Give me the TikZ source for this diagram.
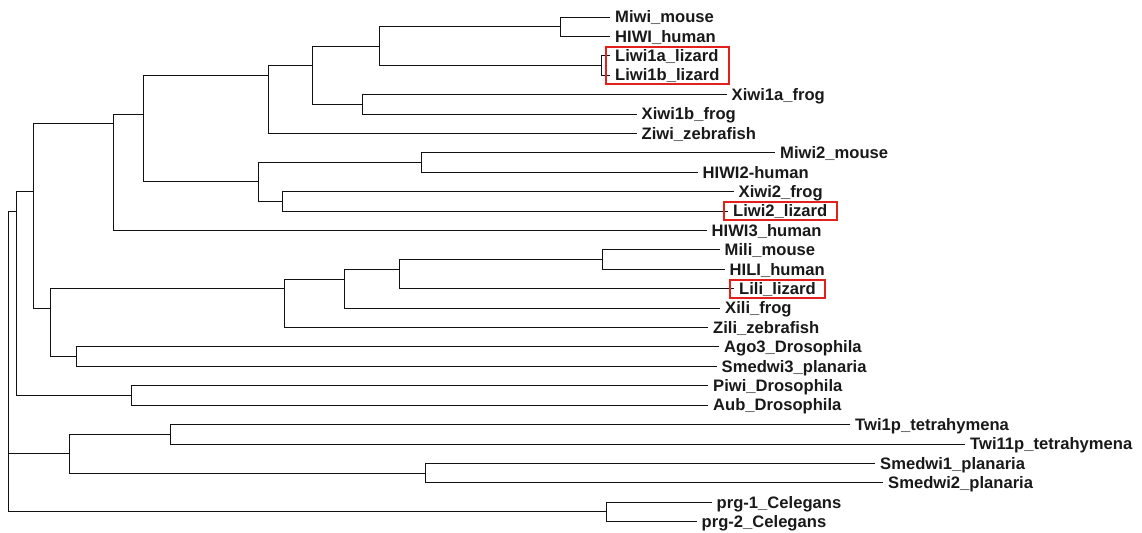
\documentclass[tikz,border=0pt]{standalone}
\usepackage{fontspec}
\setmainfont{Liberation Sans}
\usetikzlibrary{positioning, fit}
\definecolor{treeGray}{HTML}{111111}
\definecolor{markRed}{HTML}{E3201B}

\begin{document}
\begin{tikzpicture}[x=1pt, y=-19.41pt,
    branch/.style={draw=treeGray, line width=1pt},
    leaf/.style={font=\bfseries\fontsize{16.6}{18}\selectfont, text=black!90,
      inner sep=0pt, text height=14.5pt, text depth=3pt},
    hilite/.style={draw=markRed, line width=2pt, inner xsep=9.5pt, inner ysep=0pt}]
  \useasboundingbox (0,-0.876) rectangle (1142,26.533);
  % leaves: row / tip / label
  \foreach \i/\x/\w in {0/610/Miwi\_mouse, 1/610/HIWI\_human, 2/610/Liwi1a\_lizard,
      3/610/Liwi1b\_lizard, 4/726.5/Xiwi1a\_frog, 5/636.5/Xiwi1b\_frog,
      6/636.5/Ziwi\_zebrafish, 7/775/Miwi2\_mouse, 8/697.5/HIWI2-human,
      9/733.5/Xiwi2\_frog, 10/728/Liwi2\_lizard, 11/706.5/HIWI3\_human,
      12/719.5/Mili\_mouse, 13/724.5/HILI\_human, 14/734/Lili\_lizard,
      15/720/Xili\_frog, 16/708/Zili\_zebrafish, 17/719/Ago3\_Drosophila,
      18/716.5/Smedwi3\_planaria, 19/708/Piwi\_Drosophila, 20/708/Aub\_Drosophila,
      21/850/Twi1p\_tetrahymena, 22/965/Twi11p\_tetrahymena, 23/875/Smedwi1\_planaria,
      24/883/Smedwi2\_planaria, 25/711.5/prg-1\_Celegans, 26/696.5/prg-2\_Celegans}{
    \coordinate (t\i) at (\x,\i);
    \node[leaf, right=5pt of t\i] (l\i) {\w};}
  % inner nodes
  \foreach \n/\x/\y in {mh/560.3/0.5, li1/601/2.5, a1/379.3/1.5, xf/362.7/4.5,
      a2/312/2.5, a3/268.3/3, m2/421/7.5, x2/282.7/9.5, a4/258/8.5, a5/143.3/5,
      a6/113.3/5.5, mhl/602.7/12.5, b1/399/13, b2/344.7/13.5, b3/284/14,
      as3/76/17.5, b4/50/15, c1/33/9, pa/131.3/19.5, c2/16.3/10, tw/170.3/21.5,
      sm/425.7/23.5, d1/69.3/22.5, pr/606/25.5, root/8.3/13}
    \coordinate (\n) at (\x,\y);
  % branches
  \foreach \p/\c in {mh/t0, mh/t1, li1/t2, li1/t3, a1/mh, a1/li1, xf/t4, xf/t5,
      a2/a1, a2/xf, a3/a2, a3/t6, m2/t7, m2/t8, x2/t9, x2/t10, a4/m2, a4/x2,
      a5/a3, a5/a4, a6/a5, a6/t11, mhl/t12, mhl/t13, b1/mhl, b1/t14, b2/b1,
      b2/t15, b3/b2, b3/t16, as3/t17, as3/t18, b4/b3, b4/as3, c1/a6, c1/b4,
      pa/t19, pa/t20, c2/c1, c2/pa, tw/t21, tw/t22, sm/t23, sm/t24, d1/tw,
      d1/sm, pr/t25, pr/t26, root/c2, root/d1, root/pr}
    \draw[branch] (\p) |- (\c);
  % lizard genes
  \node[hilite, fit=(l2)(l3)] (liz1) {};
  \node[hilite, fit=(l10)] (liz2) {};
  \node[hilite, fit=(l14)] (liz3) {};
\end{tikzpicture}
\end{document}
